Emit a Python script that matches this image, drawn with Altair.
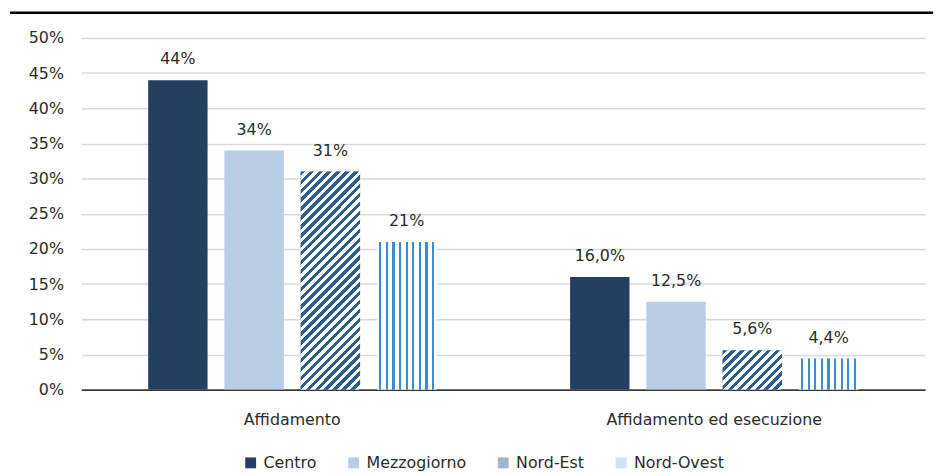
import altair as alt
import pandas as pd

# ---- data -------------------------------------------------------------
categories = ["Affidamento", "Affidamento ed esecuzione"]
series = ["Centro", "Mezzogiorno", "Nord-Est", "Nord-Ovest"]
values_affidamento = [44, 34, 31, 21]
values_esecuzione = [16.0, 12.5, 5.6, 4.4]
labels_affidamento = ["44%", "34%", "31%", "21%"]
labels_esecuzione = ["16,0%", "12,5%", "5,6%", "4,4%"]
y_ticks = [0, 5, 10, 15, 20, 25, 30, 35, 40, 45, 50]

rows = []
for c, vals, labs in [(categories[0], values_affidamento, labels_affidamento),
                      (categories[1], values_esecuzione, labels_esecuzione)]:
    for s, v, l in zip(series, vals, labs):
        rows.append({"cat": c, "serie": s, "val": v, "label": l})
df = pd.DataFrame(rows)

# ---- style ------------------------------------------------------------
W, H = 852, 355
Y_MAX = 50
BAR_W = 60
FONT = "DejaVu Sans"
TXT = "#2B2B2B"
legend_colors = ["#243F60", "#B9CDE5", "#A3B6CC", "#D3E2F2"]
NE_BLUE = "#2E5D91"
NO_BLUE = "#3B8CD6"
WHITE = "#FFFFFF"


def diag_gradient(w, h, color, period=9.0, frac=0.5):
    total = w + h
    p = period / total
    stops = []
    k = 0
    while k * p < 1:
        a = k * p
        b = min(a + p * frac, 1.0)
        c = min(a + p, 1.0)
        stops += [{"offset": a, "color": color}, {"offset": b, "color": color},
                  {"offset": b, "color": WHITE}, {"offset": c, "color": WHITE}]
        k += 1
    den = w * w + h * h
    return {"gradient": "linear", "x1": 0, "y1": 0,
            "x2": w * total / den, "y2": h * total / den, "stops": stops}


def vert_gradient(w, color, n=9, lw=2.2, first=3.3, period=6.67):
    stops = [{"offset": 0, "color": WHITE}]
    for i in range(n):
        c = first + i * period
        a = max((c - lw / 2) / w, 0)
        b = min((c + lw / 2) / w, 1)
        stops += [{"offset": a, "color": WHITE}, {"offset": a, "color": color},
                  {"offset": b, "color": color}, {"offset": b, "color": WHITE}]
    stops.append({"offset": 1, "color": WHITE})
    return {"gradient": "linear", "x1": 0, "y1": 0, "x2": 1, "y2": 0, "stops": stops}


x_enc = alt.X("cat:N", sort=categories,
              scale=alt.Scale(paddingInner=0, paddingOuter=0),
              axis=alt.Axis(title=None, labelAngle=0, ticks=False, domainColor="#000000",
                            domainWidth=1.2, labelFontSize=16, labelFont=FONT,
                            labelColor=TXT, labelPadding=22, labelLimit=0))
xo_enc = alt.XOffset("serie:N", sort=series,
                     scale=alt.Scale(domain=series, paddingInner=0.221, paddingOuter=0.877))
y_enc = alt.Y("val:Q", scale=alt.Scale(domain=[0, Y_MAX], nice=False),
              axis=alt.Axis(title=None, values=y_ticks, labelExpr="datum.value + '%'",
                            domain=False, ticks=False, gridColor="#D9D9D9", gridWidth=1.5,
                            labelFontSize=16, labelFont=FONT, labelColor=TXT,
                            labelPadding=18))

base = alt.Chart(df).encode(x=x_enc, xOffset=xo_enc, y=y_enc)

bars = base.mark_bar().encode(
    color=alt.Color("serie:N", scale=alt.Scale(domain=series, range=legend_colors),
                    legend=alt.Legend(title=None, orient="none", legendX=163, legendY=421,
                                      direction="horizontal", columns=4,
                                      symbolType="square", symbolSize=120,
                                      symbolStrokeWidth=0, labelFontSize=16,
                                      labelFont=FONT, labelColor=TXT, labelOffset=5,
                                      columnPadding=29))
)

layers = [bars]
for r in rows:
    if r["serie"] == "Nord-Est":
        g = diag_gradient(BAR_W, r["val"] * H / Y_MAX, NE_BLUE)
    elif r["serie"] == "Nord-Ovest":
        g = vert_gradient(BAR_W, NO_BLUE)
    else:
        continue
    layers.append(
        base.transform_filter((alt.datum.serie == r["serie"]) & (alt.datum.cat == r["cat"]))
        .mark_bar(fill=g)
    )

text = base.mark_text(baseline="bottom", dy=-13, fontSize=16, font=FONT, color=TXT).encode(
    text="label:N")
layers.append(text)

top_rule = alt.Chart(alt.Data(values=[{"k": 1}])).mark_rule(
    color="#000000", strokeWidth=2.5).encode(
    x=alt.value(-72), x2=alt.value(860), y=alt.value(-25.5))
layers.append(top_rule)

chart = alt.layer(*layers).properties(
    width=W, height=H,
    padding={"left": 0, "top": 1, "right": 5, "bottom": 0},
).configure_view(stroke=None)

chart.save("out.html", embed_options={"renderer": "svg", "actions": False})
